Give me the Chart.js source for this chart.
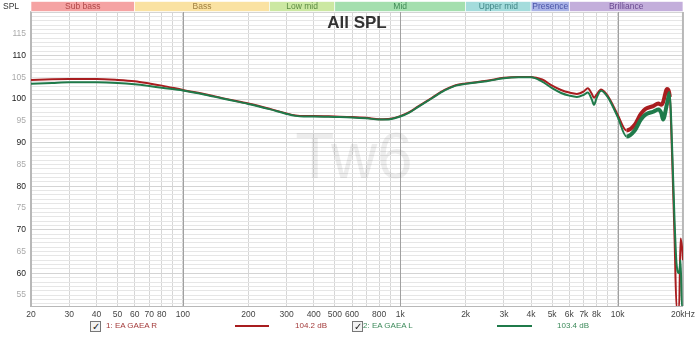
<!DOCTYPE html>
<html>
<head>
<meta charset="utf-8">
<script src="https://cdn.jsdelivr.net/npm/chart.js@4.4.0/dist/chart.umd.min.js"></script>
<style>
body{margin:0;background:#fff;font-family:"Liberation Sans",Arial,sans-serif}
#wrap{position:relative;width:699px;height:343px;overflow:hidden}
#c{position:absolute;left:0;top:0}
.lg{position:absolute;top:321px;font-size:8px;line-height:10px;white-space:nowrap}
.box{position:absolute;top:321px;width:9px;height:9px;border:1px solid #777;background:#f2f2f2;font-size:10px;line-height:9px;text-align:center;color:#222}
.ln{position:absolute;top:325px;height:2px}
</style>
</head>
<body>
<div id="wrap">
<canvas id="c" width="699" height="343"></canvas>
<div class="box" style="left:90px">&#10003;</div>
<div class="lg" style="left:106px;color:#a33a3a">1: EA GAEA R</div>
<div class="ln" style="left:235px;width:34px;background:#a81d1f"></div>
<div class="lg" style="left:295px;color:#a33a3a">104.2 dB</div>
<div class="box" style="left:352px">&#10003;</div>
<div class="lg" style="left:363px;color:#3c8a5a">2: EA GAEA L</div>
<div class="ln" style="left:497px;width:35px;background:#1f7a4a"></div>
<div class="lg" style="left:557px;color:#3c8a5a">103.4 dB</div>
</div>
<script>
// Données
const freqs = [20,25,30,40,50,60,70,80,100,130,160,200,250,300,330,360,400,500,600,700,800,900,1000,1100,1200,1400,1600,1800,2000,2500,3000,3500,4000,4500,5000,5500,6000,6500,7000,7300,7600,7800,8000,8400,9000,10000,11000,12000,12800,13500,14600,15400,15900,16200,16900,17400,17800,18300,18700,19200,19500,19800,20000];
const splR = [104.4,104.55,104.6,104.6,104.4,104.1,103.6,103.1,102.1,101.0,100.0,99.0,97.8,96.7,96.25,96.1,96.1,96.0,95.9,95.7,95.4,95.5,96.1,97.0,98.2,100.3,102.1,103.2,103.6,104.2,104.9,105.1,105.1,104.5,103.1,102.1,101.5,101.2,101.8,102.5,101.3,100.3,101.0,102.2,100.8,96.5,92.8,94.1,96.6,97.8,98.4,99.0,98.7,99.3,102.3,100.5,88,68,52,52,68,66,63];
const splL = [103.5,103.7,103.85,103.85,103.7,103.4,103.0,102.6,102.0,100.9,99.9,98.9,97.7,96.6,96.15,96.0,96.0,95.9,95.8,95.6,95.3,95.4,96.0,96.9,98.1,100.2,102.0,103.1,103.5,104.1,104.8,105.0,105.0,104.0,102.5,101.4,100.8,100.5,101.0,101.5,100.0,98.7,100.2,101.9,100.5,96.0,91.4,92.8,95.3,96.5,97.1,97.6,96.8,95.3,99.0,101.4,90,72,62,60,63,52,52];

// Graduations
const xGrid = [20,30,40,50,60,70,80,90,100,200,300,400,500,600,700,800,900,1000,2000,3000,4000,5000,6000,7000,8000,9000,10000,20000];
const xMajor = [100,1000,10000];
const xLabeled = [20,30,40,50,60,70,80,100,200,300,400,500,600,800,1000,2000,3000,4000,5000,6000,7000,8000,10000,20000];
const xLabelText = ['20','30','40','50','60','70','80','100','200','300','400','500','600','800','1k','2k','3k','4k','5k','6k','7k','8k','10k','20kHz'];
const yLabeled = [55,60,65,70,75,80,85,90,95,100,105,110,115];

// Bandes de fréquence en haut
const bandEdges = [20,60,250,500,2000,4000,6000,20000];
const bandNames = ['Sub bass','Bass','Low mid','Mid','Upper mid','Presence','Brilliance'];
const bandFill = ['#f5a3a3','#fae2a2','#cce8a2','#a4dfae','#a4dcdc','#aab3e6','#c3aedb'];
const bandText = ['#b04848','#a08040','#5a8a40','#3f8a55','#3f8585','#4a55a8','#6a4a90'];

const decor = {
    id: 'decor',
    beforeDatasetsDraw(chart) {
        const ctx = chart.ctx, a = chart.chartArea, x = chart.scales.x;
        ctx.save();
        // lignes des décades par-dessus la grille horizontale
        ctx.strokeStyle = '#a0a0a0';
        ctx.lineWidth = 1;
        xMajor.forEach(v => {
            const px = Math.round(x.getPixelForValue(v)) + 0.5;
            ctx.beginPath();
            ctx.moveTo(px, a.top);
            ctx.lineTo(px, a.bottom);
            ctx.stroke();
        });
        // filigrane
        ctx.fillStyle = 'rgba(0,0,0,0.07)';
        ctx.font = '64px "Liberation Sans", Arial, sans-serif';
        ctx.textAlign = 'center';
        ctx.textBaseline = 'middle';
        ctx.fillText('Tw6', 354, 160);
        // titre
        ctx.fillStyle = '#333';
        ctx.font = 'bold 17px "Liberation Sans", Arial, sans-serif';
        ctx.fillText('All SPL', 357, 23);
        // cadre droit
        ctx.strokeStyle = '#b8b8b8';
        ctx.lineWidth = 2;
        ctx.beginPath();
        ctx.moveTo(a.right, a.top);
        ctx.lineTo(a.right, a.bottom);
        ctx.stroke();
        ctx.restore();
    },
    afterDraw(chart) {
        const ctx = chart.ctx, x = chart.scales.x;
        ctx.save();
        ctx.font = '8.5px "Liberation Sans", Arial, sans-serif';
        ctx.textAlign = 'center';
        ctx.textBaseline = 'middle';
        for (let i = 0; i < bandNames.length; i++) {
            const x0 = x.getPixelForValue(bandEdges[i]);
            const x1 = x.getPixelForValue(bandEdges[i + 1]);
            ctx.fillStyle = bandFill[i];
            ctx.fillRect(x0, 1.5, x1 - x0, 10);
            ctx.strokeStyle = '#ffffff';
            ctx.lineWidth = 0.6;
            ctx.strokeRect(x0, 1.5, x1 - x0, 10);
            ctx.fillStyle = bandText[i];
            ctx.fillText(bandNames[i], (x0 + x1) / 2, 7);
        }
        ctx.fillStyle = '#333';
        ctx.textAlign = 'left';
        ctx.fillText('SPL', 3, 6.5);
        ctx.restore();
    }
};

const largeur = c => c.p0.parsed.x >= 11000 && c.p0.parsed.x < 17000 ? 4 : 2;

new Chart(document.getElementById('c').getContext('2d'), {
    type: 'line',
    data: {
        datasets: [{
            label: '2: EA GAEA L',
            data: freqs.map((f, i) => ({x: f, y: splL[i]})),
            borderColor: '#1f7a4a',
            borderWidth: 2,
            pointRadius: 0,
            cubicInterpolationMode: 'monotone',
            segment: {borderWidth: largeur}
        }, {
            label: '1: EA GAEA R',
            data: freqs.map((f, i) => ({x: f, y: splR[i]})),
            borderColor: '#a81d1f',
            borderWidth: 2,
            pointRadius: 0,
            cubicInterpolationMode: 'monotone',
            segment: {borderWidth: largeur}
        }]
    },
    options: {
        responsive: false,
        animation: false,
        layout: {padding: {top: 12, right: 15, left: 0, bottom: 0}},
        plugins: {legend: {display: false}, tooltip: {enabled: false}},
        scales: {
            x: {
                type: 'logarithmic',
                min: 20,
                max: 20000,
                afterBuildTicks: s => { s.ticks = xGrid.map(v => ({value: v})); },
                afterFit: s => { s.height = 37; },
                ticks: {
                    autoSkip: false,
                    maxRotation: 0,
                    padding: 4,
                    color: '#444',
                    font: {size: 8.5, family: '"Liberation Sans", Arial, sans-serif'},
                    callback: v => {
                        const i = xLabeled.indexOf(v);
                        return i >= 0 ? xLabelText[i] : '';
                    }
                },
                grid: {
                    drawTicks: false,
                    color: '#d6d6d6',
                    lineWidth: 1
                },
                border: {color: '#b8b8b8', width: 1}
            },
            y: {
                min: 52.5,
                max: 120,
                afterBuildTicks: s => {
                    const t = [];
                    for (let v = 53; v <= 120; v++) t.push({value: v});
                    s.ticks = t;
                },
                afterFit: s => { s.width = 31; },
                ticks: {
                    autoSkip: false,
                    padding: 5,
                    font: {size: 8.5, family: '"Liberation Sans", Arial, sans-serif'},
                    color: c => c.tick.value % 10 === 0 ? '#222' : '#aaa',
                    callback: v => yLabeled.includes(v) ? String(v) : ''
                },
                grid: {
                    drawTicks: false,
                    color: c => c.tick.value % 10 === 0 ? '#d4d4d4' : '#e6e6e6',
                    lineWidth: 1
                },
                border: {color: '#b8b8b8', width: 2}
            }
        }
    },
    plugins: [decor]
});
</script>
</body>
</html>
